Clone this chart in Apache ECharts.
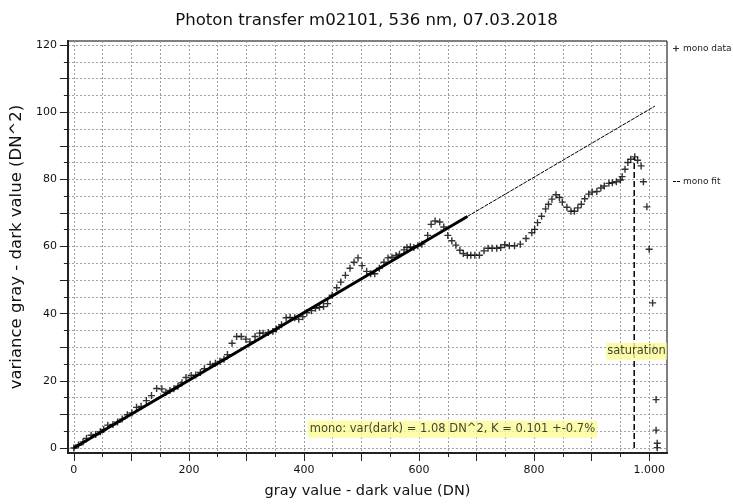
<!DOCTYPE html>
<html><head><meta charset="utf-8">
<script src="https://cdn.jsdelivr.net/npm/echarts@6/dist/echarts.min.js"></script>
<style>html,body{margin:0;padding:0;background:#fff}#c{width:733px;height:504px}</style>
</head><body><div id="c"></div>
<script>
// ---- data ----
const grayValues = [0,8,16,22,30,38,46,52,59,68,76,84,93,101,109,117,126,135,144,153,160,167,174,181,188,195,204,212,220,227,237,246,254,261,267,275,283,291,299,306,315,323,329,338,346,352,361,369,376,384,391,398,405,413,420,427,434,441,449,457,464,472,480,487,494,501,509,516,523,531,539,546,553,560,566,574,579,585,591,598,605,615,621,628,636,643,650,657,664,671,677,684,690,697,705,713,720,727,735,742,749,757,766,776,786,796,801,806,813,820,825,831,838,844,849,857,864,870,876,882,888,895,901,909,916,922,930,936,943,950,953,958,963,968,975,980,986,990,996,1000,1006,1008,1012,1012,1014,1014];
const varianceValues = [0,0.9,1.8,2.8,3.8,4.0,4.8,5.5,6.8,7.0,7.7,8.6,9.9,10.4,12.1,12.4,14.1,15.6,17.7,17.6,16.6,17.1,17.6,18.4,19.4,21.0,21.6,21.7,22.5,23.6,24.9,25.2,25.8,26.4,27.8,31.2,33.2,33.2,32.4,31.6,33.2,34.2,34.2,34.4,34.7,35.4,36.7,38.8,38.9,38.8,38.3,39.1,40.3,40.9,41.6,41.9,42.1,43.0,45.5,47.7,49.4,51.4,53.5,55.3,56.6,54.3,52.6,51.9,51.9,53.5,55.3,56.6,56.8,57.3,57.7,59.0,59.7,59.9,59.7,60.2,60.7,63.3,66.6,67.6,67.3,65.8,63.3,61.7,60.4,58.9,57.9,57.4,57.4,57.4,57.4,58.7,59.5,59.5,59.5,59.7,60.5,60.2,60.2,60.7,62.4,64.1,65.1,67.1,69.0,71.2,72.6,74.1,75.4,74.6,73.2,71.7,70.5,70.5,71.5,72.6,74.2,75.6,76.2,76.4,77.4,78.0,78.8,79.0,79.3,79.8,80.8,83.0,85.0,86.0,86.7,85.7,84.0,79.3,71.8,59.2,43.2,29.8,14.4,5.3,1.4,0.1];
const fitK = 0.1008;             // slope of the mono fit (DN^2 per DN)
const fitRangeX = [0, 684];      // fitted range (thick)
const fitExtendX = [684, 1010];  // extrapolation (thin)
const saturationX = 974;
const saturationTopY = 86.5;
const saturationLabelPos = [978, 28.8];
const annotationPos = [658, 5.6];
const annotationText = 'mono: var(dark) = 1.08 DN^2, K = 0.101 +-0.7%';
const xLabelValues = [0,200,400,600,800,1000];
const xMajorTicks = [0,100,200,300,400,500,600,700,800,900,1000];
const xMinorTicks = [0,50,100,150,200,250,300,350,400,450,500,550,600,650,700,750,800,850,900,950,1000];
const yLabelValues = [0,20,40,60,80,100,120];
const yMajorTicks = [0,10,20,30,40,50,60,70,80,90,100,110,120];
const yMinorTicks = [0,5,10,15,20,25,30,35,40,45,50,55,60,65,70,75,80,85,90,95,100,105,110,115,120];
const xRange = [-10.3, 1031];
const yRange = [-1.5, 121.2];

const FONT = 'DejaVu Sans';
const points = grayValues.map((g, i) => [g, varianceValues[i]]);
const fitLine = fitRangeX.map(x => [x, fitK * x]);
const fitExt = fitExtendX.map(x => [x, fitK * x]);
const plusPath = 'path://M2.8,0H4.2V2.8H7V4.2H4.2V7H2.8V4.2H0V2.8H2.8Z';
const grid = { left: 63, right: 66, top: 41, bottom: 46, show: true, borderColor: '#000', borderWidth: 1, backgroundColor: '#fff' };
const fmtX = v => v >= 1000 ? (Math.floor(v/1000) + '.' + String(v%1000).padStart(3,'0')) : String(v);

function xAxisCfg(ticks, len, opts) {
  return Object.assign({
    type: 'value', min: xRange[0], max: xRange[1], position: 'bottom',
    axisLine: { show: true, onZero: false, lineStyle: { color: '#222', width: 2 } },
    axisTick: { show: true, customValues: ticks, length: len, lineStyle: { color: '#222', width: 1 } },
    axisLabel: { show: false },
    splitLine: { show: false }
  }, opts || {});
}
function yAxisCfg(ticks, len, opts) {
  return Object.assign({
    type: 'value', min: yRange[0], max: yRange[1], position: 'left',
    axisLine: { show: true, onZero: false, lineStyle: { color: '#222', width: 2 } },
    axisTick: { show: true, customValues: ticks, length: len, lineStyle: { color: '#222', width: 1 } },
    axisLabel: { show: false },
    splitLine: { show: false }
  }, opts || {});
}

const option = {
  animation: false,
  backgroundColor: '#fff',
  textStyle: { fontFamily: FONT },
  title: {
    text: 'Photon transfer m02101, 536 nm, 07.03.2018',
    left: 'center', top: 7,
    textStyle: { fontFamily: FONT, fontSize: 16.6, fontWeight: 'normal', color: '#111' }
  },
  legend: [
    { data: [{ name: 'mono data', icon: plusPath }], left: 673, top: 44, padding: 0, itemWidth: 6, itemHeight: 6, itemGap: 2,
      textStyle: { fontFamily: FONT, fontSize: 9, color: '#222', padding: [0,0,0,-1] }, selectedMode: false },
    { data: [{ name: 'mono fit', icon: 'path://M0,0H3V1H0ZM4,0H7V1H4Z' }], left: 673, top: 177, padding: 0, itemWidth: 7, itemHeight: 1, itemGap: 2,
      textStyle: { fontFamily: FONT, fontSize: 9, color: '#222', padding: [0,0,0,-2] }, selectedMode: false }
  ],
  grid: grid,
  xAxis: [
    xAxisCfg(xMinorTicks, 4, {
      splitLine: { show: true, lineStyle: { color: '#a0a0a0', width: 1, type: [2, 2] } }
    }),
    xAxisCfg(xMajorTicks, 8, {
      axisLabel: { show: true, customValues: xLabelValues, formatter: fmtX, margin: 12,
        fontFamily: FONT, fontSize: 11, color: '#111' },
      name: 'gray value - dark value (DN)', nameLocation: 'middle', nameGap: 31,
      nameTextStyle: { fontFamily: FONT, fontSize: 14.5, color: '#111' }
    })
  ],
  yAxis: [
    yAxisCfg(yMinorTicks, 4, {
      splitLine: { show: true, lineStyle: { color: '#a0a0a0', width: 1, type: [2, 2] } }
    }),
    yAxisCfg(yMajorTicks, 8, {
      axisLabel: { show: true, customValues: yLabelValues, margin: 11,
        fontFamily: FONT, fontSize: 11, color: '#111' },
      name: 'variance gray - dark value (DN^2)', nameLocation: 'middle', nameGap: 39,
      nameTextStyle: { fontFamily: FONT, fontSize: 16.5, color: '#111' }
    })
  ],
  series: [
    {
      name: 'mono fit', type: 'line', data: fitLine, showSymbol: false, symbol: 'none',
      xAxisIndex: 0, yAxisIndex: 0, z: 3,
      lineStyle: { color: '#000', width: 3 }, itemStyle: { color: '#000' }
    },
    {
      name: 'mono fit', type: 'line', data: fitExt, showSymbol: false, symbol: 'none',
      xAxisIndex: 0, yAxisIndex: 0, z: 3,
      lineStyle: { color: '#000', width: 1, type: [4, 1] }, itemStyle: { color: '#000' }
    },
    {
      name: 'mono data', type: 'scatter', data: points, symbol: plusPath, symbolSize: 7,
      xAxisIndex: 0, yAxisIndex: 0, z: 4,
      itemStyle: { color: '#000' }
    },
    {
      name: 'saturation', type: 'line', data: [[saturationX, 0], [saturationX, saturationTopY]],
      showSymbol: false, symbol: 'none', xAxisIndex: 0, yAxisIndex: 0, z: 3,
      lineStyle: { color: '#000', width: 1.5, type: [6, 3] }
    },
    {
      name: 'labels', type: 'scatter', symbol: 'circle', symbolSize: 1, xAxisIndex: 0, yAxisIndex: 0, z: 6,
      itemStyle: { color: 'rgba(0,0,0,0)' },
      data: [
        { value: saturationLabelPos, label: { show: true, formatter: 'saturation', position: 'inside',
          backgroundColor: '#fbfb96', padding: [3, 1, 2, 1], color: '#111', fontFamily: FONT, fontSize: 11.5 } },
        { value: annotationPos, label: { show: true, formatter: annotationText, position: 'inside',
          backgroundColor: '#fbfb96', padding: [3, 2, 2, 2], color: '#111', fontFamily: FONT, fontSize: 11.5 } }
      ],
      silent: true
    }
  ]
};
const chart = echarts.init(document.getElementById('c'), null, { renderer: 'canvas' });
chart.setOption(option);
</script>
</body></html>
